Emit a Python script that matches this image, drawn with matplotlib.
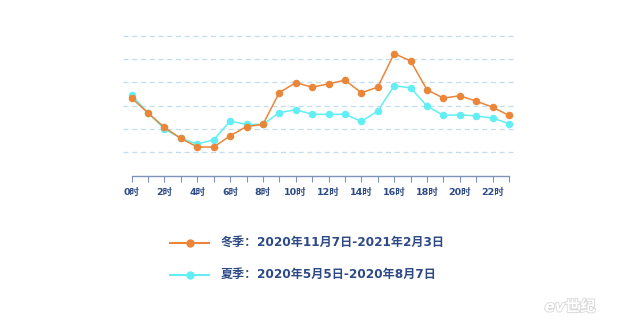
import matplotlib
matplotlib.use("Agg")
import matplotlib.pyplot as plt
from matplotlib.lines import Line2D
import matplotlib.patheffects as pe

plt.rcParams['font.family'] = ['DejaVu Sans', 'Noto Sans CJK SC']

hours = list(range(24))
tick_labels = [f"{h}时" for h in range(0, 24, 2)]

winter = [3.33, 2.69, 2.07, 1.60, 1.23, 1.23, 1.71, 2.11, 2.20, 3.57, 3.99, 3.80,
          3.94, 4.10, 3.56, 3.80, 5.24, 4.93, 3.69, 3.33, 3.43, 3.20, 2.94, 2.59]
summer = [3.46, 2.69, 2.01, 1.60, 1.36, 1.54, 2.34, 2.20, 2.20, 2.71, 2.83, 2.64,
          2.63, 2.64, 2.33, 2.77, 3.86, 3.77, 2.99, 2.59, 2.61, 2.57, 2.47, 2.24]

winter_name, winter_dates = "冬季：", "2020年11月7日-2021年2月3日"
summer_name, summer_dates = "夏季：", "2020年5月5日-2020年8月7日"

orange = "#EB8639"
cyan = "#62EEF2"
navy = "#2D4A86"
grid_c = "#C3DCEF"
axis_c = "#7D93B8"

W, H = 640, 324
fig = plt.figure(figsize=(W / 100, H / 100), dpi=100)
fig.patch.set_facecolor("white")

ax = fig.add_axes([123 / W, (H - 175.7) / H, (517 - 123) / W, (175.7 - 28.9) / H])
ax.set_xlim(-0.53, 23.49)
ax.set_ylim(0, 6.3)

for v in range(1, 7):
    ax.axhline(v, color=grid_c, lw=0.9, ls=(0, (4, 3)), zorder=1)

ax.plot(hours, summer, color=cyan, lw=1.1, marker="o", ms=4.4, mec=cyan, mfc=cyan, zorder=3)
ax.plot(hours, winter, color=orange, lw=1.1, marker="o", ms=4.4, mec=orange, mfc=orange, zorder=4)

for s in ["top", "right", "left"]:
    ax.spines[s].set_visible(False)
ax.spines["bottom"].set_bounds(0, 23)
ax.spines["bottom"].set_color(axis_c)
ax.spines["bottom"].set_linewidth(1.0)
ax.set_yticks([])
ax.set_xticks(hours, minor=True)
ax.set_xticks(range(0, 24, 2))
ax.set_xticklabels(tick_labels, fontsize=6.8, color=navy, fontweight="bold")
ax.tick_params(axis="x", which="both", direction="out", length=4, width=0.8,
               color=axis_c, pad=5)

renderer = fig.canvas.get_renderer()


# legend drawn in figure pixel coordinates: season name in a CJK face
# (full-width colon), date range right after it
def legend_entry(y, color, name, dates):
    yf = (H - y) / H
    fig.add_artist(Line2D([170 / W, 209 / W], [yf, yf], color=color, lw=1.5,
                          transform=fig.transFigure))
    fig.add_artist(Line2D([189.5 / W], [yf], color=color, marker="o", ms=5.0,
                          transform=fig.transFigure))
    t1 = fig.text(221 / W, yf, name, fontsize=8.7, color=navy, va="center", ha="left",
                  fontweight="bold", family="Noto Sans CJK SC")
    x_end = t1.get_window_extent(renderer).x1
    fig.text(x_end / W, yf, dates, fontsize=8.7, color=navy, va="center", ha="left",
             fontweight="bold")

legend_entry(242.7, orange, winter_name, winter_dates)
legend_entry(274.5, cyan, summer_name, summer_dates)

fig.text(570 / W, (H - 307) / H, "ev世纪", fontsize=11, color="white", style="italic",
         fontweight="bold", ha="center", va="center",
         path_effects=[pe.withStroke(linewidth=1.2, foreground="#D6D6D6")])

fig.savefig("out.png", dpi=100, facecolor="white")
